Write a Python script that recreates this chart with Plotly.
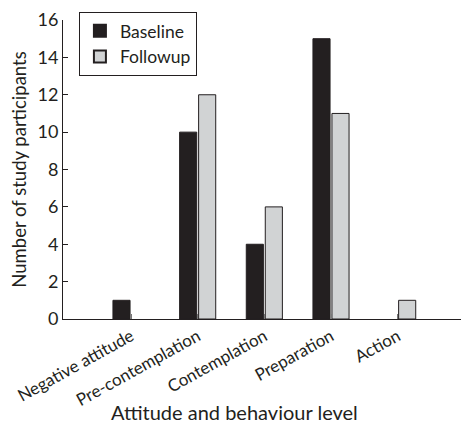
import plotly.graph_objects as go

categories = ["Negative attitude", "Pre-contemplation", "Contemplation", "Preparation", "Action"]
baseline = [1, 10, 4, 15, 0]
followup = [0, 12, 6, 11, 1]
y_ticks = [0, 2, 4, 6, 8, 10, 12, 14, 16]

FONT = "Lato"
fig = go.Figure()
fig.add_trace(go.Bar(name="Baseline", x=categories, y=baseline,
                     marker=dict(color="#231f20",
                                 line=dict(color="#231f20", width=[1 if v else 0 for v in baseline]))))
fig.add_trace(go.Bar(name="Followup", x=categories, y=followup,
                     marker=dict(color="#d1d3d4",
                                 line=dict(color="#231f20", width=[1 if v else 0 for v in followup]))))

fig.update_layout(
    width=461, height=425,
    margin=dict(l=63, r=0, t=20, b=106),
    paper_bgcolor="white", plot_bgcolor="white",
    barmode="group", bargap=0.43, bargroupgap=0.1,
    font=dict(family=FONT, size=16, color="#231f20"),
    showlegend=True,
    legend=dict(x=0.04, y=1.027, xanchor="left", yanchor="top",
                bordercolor="#231f20", borderwidth=1, bgcolor="white",
                font=dict(size=17.5), itemwidth=30, tracegroupgap=0,
                itemsizing="constant"),
    xaxis=dict(
        type="category", range=[-1.02, 4.95], automargin=False,
        showline=True, linecolor="#231f20", linewidth=1,
        ticks="inside", ticklen=5, tickcolor="#777", tickwidth=1,
        tickangle=-29, tickfont=dict(size=17),
        showgrid=False, zeroline=False,
    ),
    yaxis=dict(
        range=[0, 16], tickvals=y_ticks, automargin=False,
        showline=True, linecolor="#231f20", linewidth=1,
        ticks="inside", ticklen=5, tickcolor="#231f20",
        tickfont=dict(size=18),
        title=dict(text="Number of study participants", font=dict(size=18.5), standoff=6),
        showgrid=False, zeroline=False,
    ),
    annotations=[dict(text="Attitude and behaviour level", xref="paper", yref="paper",
                      x=0.432, y=-0.31, xanchor="center", yanchor="middle",
                      showarrow=False, font=dict(size=20))],
)

fig.write_html("out.html", post_script="document.body.style.margin='0';",
               config={"displayModeBar": False})
